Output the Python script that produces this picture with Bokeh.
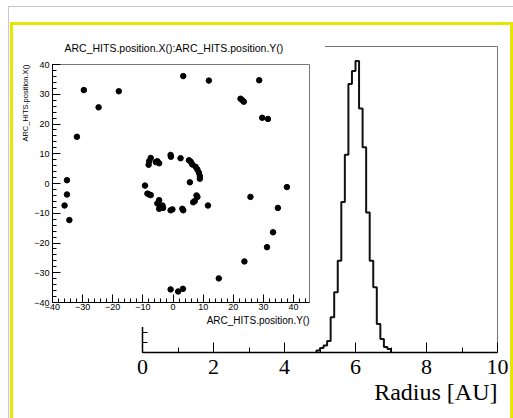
import numpy as np
from bokeh.plotting import figure
from bokeh.models import FixedTicker, Column, Div, Title
from bokeh.embed import file_html
from bokeh.resources import INLINE

# ---------------- data: Radius histogram (bin width 0.1) ----------------
radius_bin_left = [4.9, 5.0, 5.1, 5.2, 5.3, 5.4, 5.5, 5.6, 5.7, 5.8, 5.9,
                   6.0, 6.1, 6.2, 6.3, 6.4, 6.5, 6.6, 6.7, 6.8, 6.9]
radius_counts = [4, 9, 14, 23, 71, 121, 184, 302, 397, 539, 565,
                 585, 490, 412, 281, 184, 131, 57, 27, 11, 7]
radius_bin_width = 0.1
radius_xticks = [0, 2, 4, 6, 8, 10]
radius_xminor = [1, 3, 5, 7, 9]
radius_yticks = [0, 100, 200, 300, 400, 500, 600]
radius_yminor = list(range(0, 620, 20))

# ---------------- data: ARC hits (horizontal = position.Y, vertical = position.X) ----------------
hit_pos_y = [-35.2, -31.9, -29.6, -24.7, -18.0, 3.4, 11.9, 28.6, 22.4, 23.0,
             23.5, 29.6, 31.5, 37.8, 25.7, 34.8, 33.2, 31.2, 23.7, 15.2,
             -0.8, 1.7, 3.3, -35.2, -36.0, -34.4, 11.6,
             -9.3, -8.1, -7.9, -7.4, -5.7, -5.2, -4.6, -0.8, -0.7, 2.5,
             5.3, 5.9, 6.4, 7.5, 8.1, 8.6, 8.9, 8.9, 5.6, 7.8,
             8.1, 6.7, 7.2, 3.1, 3.4, -0.8, -0.2, -4.6, -5.2, -4.3,
             -3.5, -4.6, -3.3, -8.5, -7.9, -7.4]
hit_pos_x = [1.1, 15.7, 31.4, 25.6, 31.0, 36.1, 34.6, 34.7, 28.5, 28.0,
             27.5, 22.1, 21.7, -1.2, -4.5, -8.2, -16.4, -21.4, -26.2, -31.9,
             -35.6, -36.3, -35.4, -3.7, -7.4, -12.3, -7.4,
             -0.7, 6.3, 7.5, 8.6, 7.2, 7.5, 6.8, 9.6, 9.0, 8.5,
             7.8, 7.3, 6.4, 5.6, 4.7, 3.6, 2.5, 1.6, 0.4, -4.0,
             -4.5, -6.3, -5.9, -8.5, -9.0, -9.0, -8.7, -5.6, -6.7, -7.6,
             -7.4, -8.5, -8.2, -3.4, -3.7, -3.9]
hit_ticks = [-40, -30, -20, -10, 0, 10, 20, 30, 40]
hit_minor = list(range(-40, 46, 2))

SANS = "Liberation Sans"
SERIF = "Liberation Serif"

# ---------------- main histogram canvas ----------------
p = figure(width=513, height=418, output_backend="svg", toolbar_location=None,
           x_range=(0, 10), y_range=(0, 1.05 * max(radius_counts)),
           min_border_left=142, min_border_right=16, min_border_top=46,
           min_border_bottom=66)
p.xgrid.visible = False
p.ygrid.visible = False
p.outline_line_color = "#777777"
p.outline_line_width = 1

xs = [radius_bin_left[0]] + radius_bin_left + [radius_bin_left[-1] + radius_bin_width]
ys = [0] + radius_counts + [0]
p.step(xs, ys, mode="after", line_color="#111111", line_width=2)

xa = p.xaxis[0]
xa.ticker = FixedTicker(ticks=radius_xticks, minor_ticks=radius_xminor)
xa.major_tick_in = 10
xa.major_tick_out = 0
xa.minor_tick_in = 5
xa.minor_tick_out = 0
xa.axis_line_width = 1.5
xa.axis_line_color = "black"
xa.major_tick_line_color = "black"
xa.minor_tick_line_color = "black"
xa.major_label_text_font = SERIF
xa.major_label_text_font_size = "22px"
xa.major_label_text_color = "black"
xa.major_label_standoff = 7

ya = p.yaxis[0]
ya.ticker = FixedTicker(ticks=radius_yticks, minor_ticks=radius_yminor)
ya.major_tick_in = 10
ya.major_tick_out = 0
ya.minor_tick_in = 5
ya.minor_tick_out = 0
ya.axis_line_width = 1.5
ya.axis_line_color = "black"
ya.major_tick_line_color = "black"
ya.minor_tick_line_color = "black"
ya.major_label_overrides = {t: "" for t in radius_yticks}

p.add_layout(Title(text="Radius [AU]", align="right", offset=0, standoff=0,
                   text_font=SERIF, text_font_size="24px", text_font_style="normal",
                   text_color="black"), "below")

# ---------------- window edge and yellow canvas border (CSS boxes) ----------------
gray_edge = Div(width=505, height=412, margin=0, styles={
    "position": "absolute", "left": "8px", "top": "6px", "box-sizing": "border-box",
    "border-left": "1px solid #c8c8c8", "border-top": "1px solid #c8c8c8"})
yellow_edge = Div(width=503, height=396, margin=0, styles={
    "position": "absolute", "left": "10px", "top": "21.5px", "box-sizing": "border-box",
    "border-left": "3px solid #e6e600", "border-top": "3px solid #e6e600",
    "border-right": "3px solid #e6e600"})

# ---------------- inset scatter pad ----------------
q = figure(frame_width=257, frame_height=238, output_backend="svg", toolbar_location=None,
           x_range=(-40, 45.3), y_range=(-40, 40),
           min_border_left=37, min_border_right=16, min_border_top=29,
           min_border_bottom=25, border_fill_color="white")
q.xgrid.visible = False
q.ygrid.visible = False
q.outline_line_color = "#777777"
q.add_layout(Title(text="ARC_HITS.position.X():ARC_HITS.position.Y()", align="left",
                   offset=12, standoff=21, text_font=SANS, text_font_size="10.5px",
                   text_font_style="normal", text_color="black"), "above")

q.scatter(hit_pos_y, hit_pos_x, size=5.5, color="black")

for ax in (q.xaxis[0], q.yaxis[0]):
    ax.ticker = FixedTicker(ticks=hit_ticks, minor_ticks=hit_minor)
    ax.major_tick_in = 8
    ax.major_tick_out = 0
    ax.minor_tick_in = 4
    ax.minor_tick_out = 0
    ax.axis_line_color = "black"
    ax.major_tick_line_color = "black"
    ax.minor_tick_line_color = "black"
    ax.major_label_text_font = SANS
    ax.major_label_text_font_size = "9px"
    ax.major_label_text_color = "black"
q.xaxis[0].major_label_standoff = 1
q.yaxis[0].major_label_standoff = 3

q.add_layout(Title(text="ARC_HITS.position.Y()", align="right", offset=0, standoff=0,
                   text_font=SANS, text_font_size="10px", text_font_style="normal",
                   text_color="black"), "below")
q.add_layout(Title(text="ARC_HITS.position.X()", align="right", offset=0, standoff=4,
                   text_font=SANS, text_font_size="7.5px", text_font_style="normal",
                   text_color="black"), "left")

# keep each plot's frame where it is placed (no frame alignment between plots)
for fig in (p, q):
    if "frame_align" in fig.properties():
        fig.frame_align = False

inset = Column(q, margin=0, styles={"position": "absolute", "left": "15px", "top": "29px"})
layout = Column(p, gray_edge, yellow_edge, inset)
open("out.html", "w").write(file_html(layout, INLINE))
